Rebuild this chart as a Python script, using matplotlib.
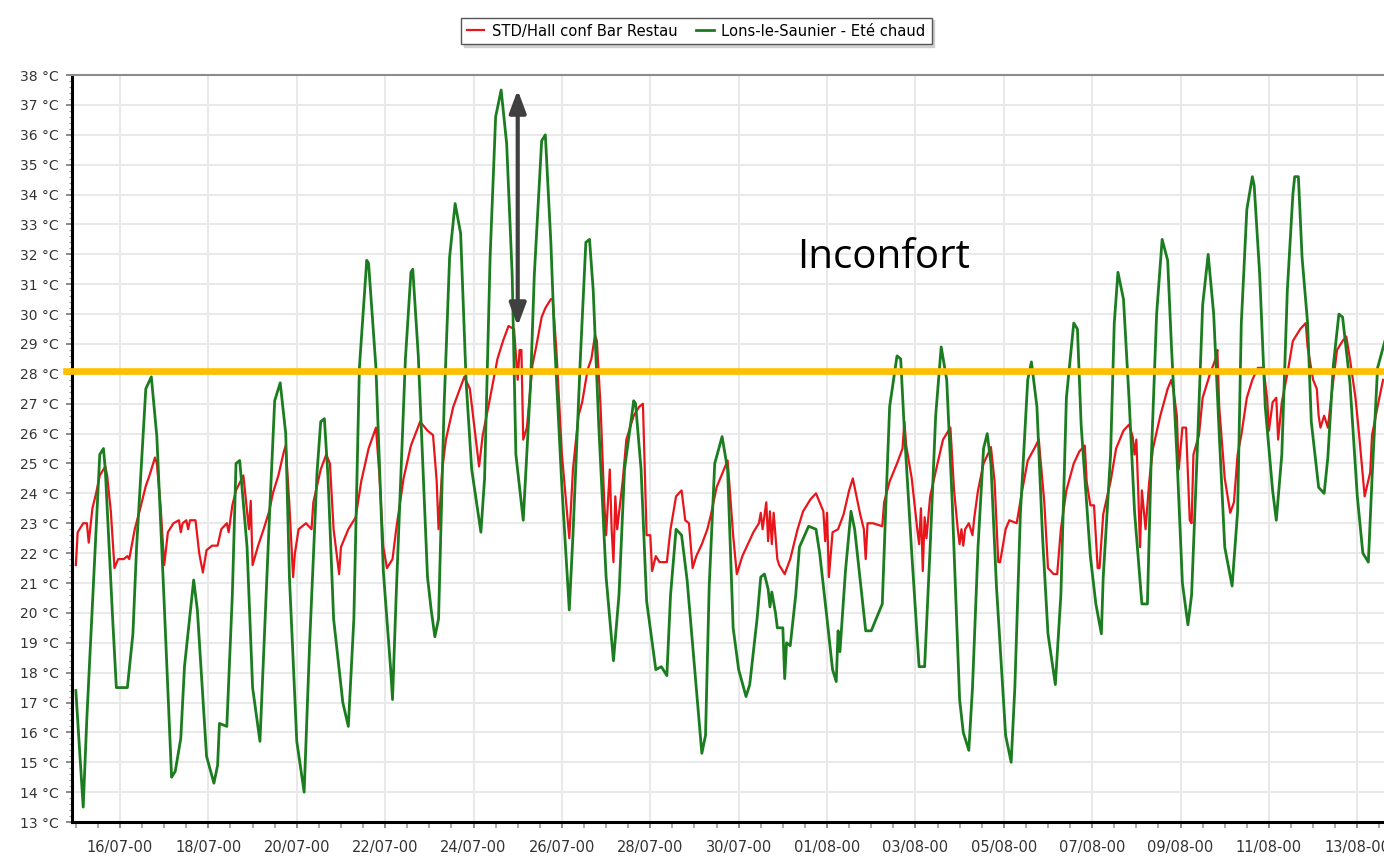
import matplotlib
matplotlib.use("Agg")
import matplotlib.pyplot as plt
import matplotlib.dates as mdates
from matplotlib.ticker import MultipleLocator, FuncFormatter
import numpy as np
import pandas as pd

plt.rcParams["font.family"] = ["DejaVu Sans"]

# hourly readings, hours counted from 15/07/2000 00:00
start = pd.Timestamp("2000-07-15 00:00")

hall_h = [0, 1, 4, 6, 7, 9, 11, 13, 16, 17, 19, 21, 23, 26, 28, 29, 32, 35, 38, 40,
          43, 44, 46, 48, 50, 53, 56, 57, 58, 60, 61, 62, 65, 67, 69, 71, 74, 77, 79, 82,
          83, 85, 87, 91, 94, 95, 96, 99, 102, 105, 107, 110, 113, 114, 116, 118, 119, 121, 125, 128,
          129, 133, 136, 138, 140, 143, 144, 148, 152, 155, 159, 163, 165, 167, 169, 172, 174, 178, 182, 187,
          191, 194, 196, 197, 199, 201, 205, 208, 211, 214, 217, 219, 221, 225, 229, 232, 235, 238, 240, 241,
          242, 243, 245, 248, 250, 253, 255, 258, 259, 261, 264, 268, 270, 273, 275, 278, 280, 282, 283, 285,
          287, 288, 290, 291, 292, 293, 294, 297, 299, 303, 306, 308, 310, 312, 313, 315, 317, 321, 323, 326,
          329, 331, 333, 335, 337, 340, 343, 345, 348, 352, 354, 357, 359, 362, 365, 368, 371, 372, 373, 375,
          376, 377, 378, 379, 381, 382, 385, 388, 392, 395, 399, 402, 404, 406, 407, 408, 409, 411, 414, 417,
          420, 422, 424, 426, 428, 429, 430, 433, 438, 439, 442, 446, 449, 450, 451, 454, 457, 458, 459, 460,
          461, 462, 464, 468, 471, 475, 477, 479, 480, 481, 482, 483, 485, 487, 488, 490, 493, 496, 497, 499,
          501, 502, 505, 507, 511, 514, 517, 521, 523, 526, 528, 531, 533, 535, 538, 542, 545, 548, 549, 551,
          553, 555, 556, 558, 562, 565, 569, 572, 574, 575, 576, 577, 578, 579, 581, 583, 585, 589, 593, 595,
          596, 598, 599, 601, 603, 605, 606, 607, 610, 612, 616, 619, 620, 621, 624, 627, 629, 631, 633, 636,
          639, 642, 645, 647, 648, 650, 652, 653, 655, 658, 661, 665, 668, 669, 672, 674, 675, 676, 678, 680,
          683, 685, 688, 690, 692, 695, 697, 700, 703, 704, 707, 710]
hall_t = [21.6, 22.7, 23.0, 23.0, 22.35, 23.5, 24.0, 24.6, 24.9, 24.6, 23.4, 21.5, 21.8, 21.8, 21.9, 21.8, 22.8, 23.5, 24.25, 24.6,
          25.2, 25.0, 23.6, 21.6, 22.7, 23.0, 23.1, 22.7, 23.0, 23.1, 22.8, 23.1, 23.1, 22.0, 21.35, 22.1, 22.25, 22.25, 22.8, 23.0,
          22.7, 23.6, 24.1, 24.6, 22.8, 23.75, 21.6, 22.25, 22.8, 23.4, 24.0, 24.6, 25.4, 25.6, 23.6, 21.2, 22.0, 22.8, 23.0, 22.8,
          23.7, 24.8, 25.3, 25.0, 22.8, 21.3, 22.2, 22.8, 23.2, 24.4, 25.5, 26.2, 24.5, 22.2, 21.5, 21.8, 22.8, 24.5, 25.6, 26.4,
          26.1, 25.95, 24.4, 22.8, 24.8, 25.8, 26.9, 27.4, 27.9, 27.5, 25.95, 24.9, 25.95, 27.2, 28.5, 29.1, 29.6, 29.5, 27.8, 28.8,
          28.8, 25.8, 26.2, 28.3, 28.9, 29.9, 30.2, 30.5, 30.5, 28.8, 25.3, 22.5, 24.8, 26.6, 27.05, 28.15, 28.5, 29.3, 29.1, 26.9,
          23.7, 22.6, 24.8, 22.8, 21.7, 23.9, 22.8, 24.4, 25.8, 26.6, 26.9, 27.0, 22.6, 22.6, 21.4, 21.9, 21.7, 21.7, 22.8, 23.9,
          24.1, 23.1, 23.0, 21.5, 21.9, 22.3, 22.8, 23.3, 24.2, 24.8, 25.1, 22.6, 21.3, 21.9, 22.3, 22.7, 23.0, 23.35, 22.8, 23.7,
          22.4, 23.4, 22.3, 23.35, 21.8, 21.6, 21.3, 21.8, 22.8, 23.4, 23.8, 24.0, 23.7, 23.4, 22.4, 23.35, 21.2, 22.7, 22.8, 23.3,
          24.1, 24.5, 23.9, 23.3, 22.8, 21.8, 23.0, 23.0, 22.9, 23.7, 24.4, 25.0, 25.5, 26.4, 25.6, 24.5, 22.8, 22.3, 23.5, 21.4,
          23.2, 22.5, 23.9, 25.0, 25.8, 26.2, 24.1, 22.8, 22.3, 22.8, 22.25, 22.8, 23.0, 22.6, 23.2, 24.1, 25.0, 25.4, 25.55, 24.4,
          21.7, 21.7, 22.8, 23.1, 23.0, 24.1, 25.1, 25.55, 25.8, 23.7, 21.5, 21.3, 21.3, 22.8, 24.1, 25.0, 25.4, 25.6, 24.4, 23.6,
          23.6, 21.5, 21.5, 23.3, 24.4, 25.5, 26.1, 26.3, 25.9, 25.3, 25.8, 24.1, 22.2, 24.1, 22.8, 24.4, 25.5, 26.6, 27.5, 27.8,
          27.5, 26.6, 24.8, 26.2, 26.2, 23.1, 23.0, 25.3, 25.95, 27.2, 28.0, 28.5, 28.8, 26.9, 24.5, 23.35, 23.7, 25.3, 25.95, 27.2,
          27.8, 28.2, 28.2, 27.2, 26.1, 27.05, 27.2, 25.8, 27.05, 28.0, 29.1, 29.5, 29.7, 28.9, 27.8, 27.5, 26.6, 26.2, 26.6, 26.2,
          27.8, 28.8, 29.1, 29.25, 28.5, 27.2, 25.95, 23.9, 24.7, 25.95, 26.9, 27.8]

ext_h = [0, 4, 6, 13, 15, 16, 20, 22, 28, 31, 33, 38, 41, 44, 48, 52, 54, 57, 59, 64,
         66, 71, 75, 77, 78, 82, 85, 87, 89, 93, 96, 100, 102, 105, 108, 111, 114, 116, 120, 124,
         127, 131, 133, 135, 137, 140, 145, 148, 151, 154, 158, 159, 163, 167, 171, 172, 174, 179, 182, 183,
         186, 191, 193, 195, 197, 200, 203, 206, 209, 212, 215, 220, 222, 225, 228, 231, 234, 237, 239, 243,
         247, 249, 253, 255, 258, 260, 264, 268, 270, 274, 277, 279, 281, 284, 288, 292, 295, 298, 303, 304,
         307, 310, 315, 318, 321, 323, 326, 329, 332, 336, 340, 342, 344, 347, 351, 354, 357, 360, 364, 366,
         370, 372, 374, 376, 377, 378, 380, 381, 384, 385, 386, 388, 391, 393, 398, 402, 404, 408, 411, 413,
         414, 415, 418, 421, 423, 426, 429, 432, 434, 438, 440, 442, 446, 448, 450, 454, 458, 461, 464, 467,
         470, 473, 476, 480, 482, 485, 487, 490, 493, 495, 497, 500, 505, 508, 510, 513, 517, 519, 522, 525,
         528, 532, 535, 538, 542, 544, 546, 551, 554, 557, 558, 562, 564, 566, 569, 572, 575, 579, 582, 584,
         587, 590, 593, 595, 598, 601, 604, 606, 609, 612, 615, 618, 621, 624, 628, 631, 633, 636, 639, 640,
         643, 646, 650, 652, 655, 658, 661, 662, 664, 666, 669, 671, 675, 678, 680, 683, 686, 688, 692, 696,
         699, 702, 704, 707, 711]
ext_t = [17.4, 13.5, 16.5, 25.3, 25.5, 24.8, 19.8, 17.5, 17.5, 19.3, 22.2, 27.5, 27.9, 25.9, 20.3, 14.5, 14.7, 15.8, 18.2, 21.1,
         20.1, 15.2, 14.3, 14.9, 16.3, 16.2, 20.6, 25.0, 25.1, 22.2, 17.5, 15.7, 18.6, 23.0, 27.1, 27.7, 26.0, 21.2, 15.7, 14.0,
         19.0, 24.7, 26.4, 26.5, 24.5, 19.8, 17.0, 16.2, 19.8, 28.2, 31.8, 31.7, 28.2, 21.4, 18.1, 17.1, 20.6, 28.5, 31.4, 31.5,
         28.6, 21.2, 20.1, 19.2, 19.8, 26.9, 31.9, 33.7, 32.7, 27.7, 24.8, 22.7, 24.5, 31.9, 36.6, 37.5, 35.7, 31.3, 25.3, 23.1,
         27.7, 31.3, 35.8, 36.0, 32.4, 29.1, 24.2, 20.1, 22.6, 28.5, 32.4, 32.5, 30.8, 26.3, 21.2, 18.4, 20.6, 24.8, 27.1, 27.0,
         24.8, 20.4, 18.1, 18.2, 17.9, 20.6, 22.8, 22.6, 21.1, 18.2, 15.3, 15.9, 20.9, 25.0, 25.9, 24.8, 19.5, 18.1, 17.2, 17.6,
         19.8, 21.2, 21.3, 20.8, 20.2, 20.7, 20.0, 19.5, 19.5, 17.8, 19.0, 18.9, 20.6, 22.2, 22.9, 22.8, 22.0, 19.8, 18.1, 17.7,
         19.4, 18.7, 21.4, 23.4, 22.8, 21.1, 19.4, 19.4, 19.7, 20.3, 23.7, 26.9, 28.6, 28.5, 26.1, 22.0, 18.2, 18.2, 22.2, 26.6,
         28.9, 27.8, 23.7, 17.1, 16.0, 15.4, 17.5, 22.2, 25.5, 26.0, 25.0, 20.9, 15.9, 15.0, 17.5, 23.3, 27.8, 28.4, 26.9, 22.6,
         19.3, 17.6, 20.6, 27.2, 29.7, 29.5, 26.3, 21.9, 20.3, 19.3, 21.2, 25.3, 29.7, 31.4, 30.5, 27.2, 23.4, 20.3, 20.3, 25.0,
         30.0, 32.5, 31.8, 29.0, 25.3, 21.0, 19.6, 20.6, 25.3, 30.3, 32.0, 30.0, 26.0, 22.2, 20.9, 23.4, 29.7, 33.5, 34.6, 34.3,
         31.3, 26.9, 24.1, 23.1, 25.3, 30.8, 34.0, 34.6, 34.6, 31.9, 29.7, 26.4, 24.2, 24.0, 25.2, 28.3, 30.0, 29.9, 27.7, 23.9,
         22.0, 21.7, 24.5, 28.2, 29.1]

series_labels = ["STD/Hall conf Bar Restau", "Lons-le-Saunier - Eté chaud"]
seuil_confort = 28.1
date_ticks = pd.date_range("2000-07-16", "2000-08-13", freq="2D")

hall_x = start + pd.to_timedelta(hall_h, unit="h")
ext_x = start + pd.to_timedelta(ext_h, unit="h")

fig = plt.figure(figsize=(13.84, 8.57), dpi=100)
ax = fig.add_axes([0.0520, 0.0408, 0.948, 0.8716])

l_hall, = ax.plot(hall_x, hall_t, color="#e8161b", lw=1.6, zorder=3)
l_ext, = ax.plot(ext_x, ext_t, color="#1b7d1f", lw=2.0, zorder=4)

# seuil d'inconfort
ax.axhline(seuil_confort, xmin=-0.0046, xmax=1, color="#ffc000", lw=4.8,
           clip_on=False, zorder=5)
ax.text(start + pd.Timedelta(hours=392), 31.55, "Inconfort", family="Open Sans",
        fontsize=29, color="black", ha="left", va="baseline", zorder=6)

# écart entre le pic extérieur et la température intérieure
i_top = int(np.argmax(ext_t))
x_fleche = start + pd.Timedelta(hours=240)
haut = ext_t[i_top]
bas = max(t for h, t in zip(hall_h, hall_t) if 228 <= h <= 240)
ax.annotate("", xy=(x_fleche, haut), xytext=(x_fleche, bas),
            arrowprops=dict(arrowstyle="<|-|>,head_length=0.75,head_width=0.28",
                            color="#404040", lw=3, mutation_scale=18,
                            shrinkA=0, shrinkB=0), zorder=7)

ax.set_xlim(start - pd.Timedelta(hours=2.1), start + pd.Timedelta(hours=710.5))
ax.set_ylim(13, 38)

ax.set_xticks(date_ticks)
ax.xaxis.set_major_formatter(mdates.DateFormatter("%d/%m-%y"))
ax.xaxis.set_minor_locator(mdates.HourLocator(byhour=[0, 12]))
ax.yaxis.set_major_locator(MultipleLocator(1))
ax.yaxis.set_minor_locator(MultipleLocator(0.2))
ax.yaxis.set_major_formatter(FuncFormatter(lambda v, p: f"{v:.0f} °C"))

ax.grid(True, which="major", color="#e9e9e9", lw=1.5, zorder=0)
ax.set_axisbelow(True)

ax.tick_params(axis="both", which="major", labelcolor="#333333",
               color="#777777", direction="out")
ax.tick_params(axis="x", which="major", labelsize=10.5, length=4, width=1.2, pad=9)
ax.tick_params(axis="x", which="minor", length=4, width=1.2, color="#999999")
ax.tick_params(axis="y", which="major", labelsize=10, length=4.5, width=1.2, pad=5)
ax.tick_params(axis="y", which="minor", length=2.5, width=0.8, color="#999999")

for side in ("left", "bottom"):
    ax.spines[side].set_linewidth(2.2)
    ax.spines[side].set_color("black")
ax.spines["top"].set_color("#8c8c8c")
ax.spines["top"].set_linewidth(1.5)
ax.spines["right"].set_visible(False)

fig.legend([l_hall, l_ext], series_labels, loc="upper center",
           bbox_to_anchor=(0.503, 0.988), ncol=2, fontsize=10.6, frameon=True,
           fancybox=False, edgecolor="#555555", handlelength=1.2,
           columnspacing=1.3, borderpad=0.4, handletextpad=0.5,
           shadow={"color": "#c8c8c8", "alpha": 0.8})

fig.savefig("out.png", dpi=100)
